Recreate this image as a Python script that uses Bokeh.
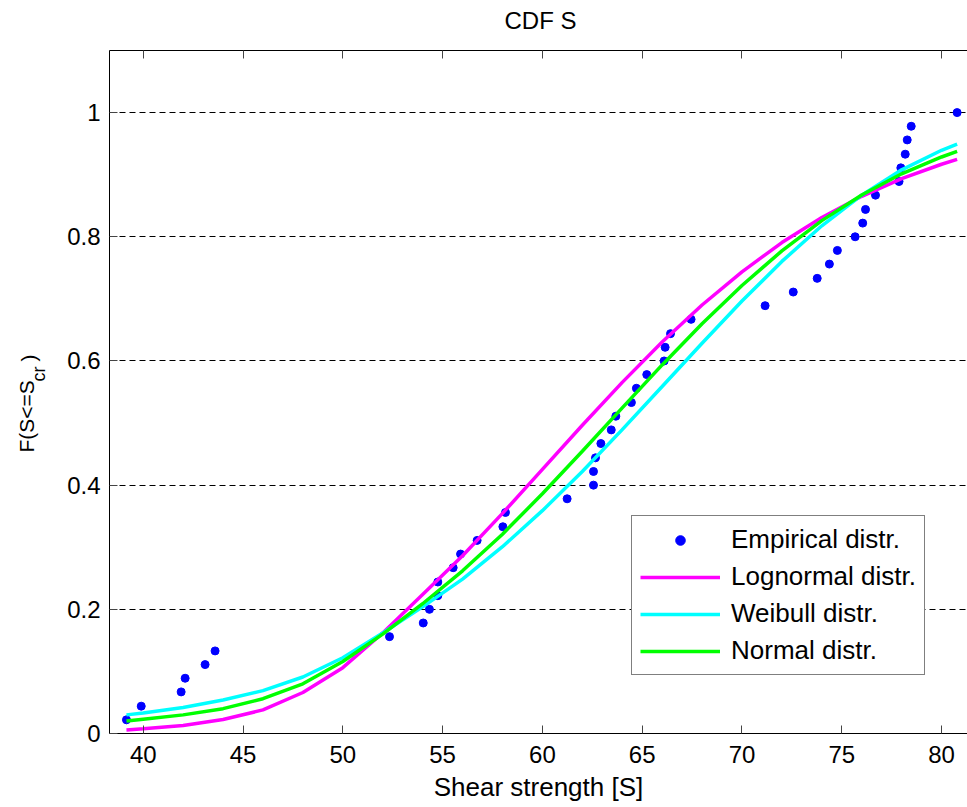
import math
from bokeh.plotting import figure
from bokeh.models import FixedTicker, LinearAxis, Range1d, Legend, LegendItem
from bokeh.layouts import row, column
from bokeh.core.properties import value
from bokeh.embed import file_html
from bokeh.resources import INLINE

# ---------------- data ----------------
emp_x = [39.16, 39.90, 41.90, 42.10, 43.10, 43.60, 52.34, 54.03, 54.34, 54.76,
         54.76, 55.53, 55.90, 56.73, 58.02, 58.15, 61.24, 62.56, 62.56, 62.66,
         62.93, 63.45, 63.68, 64.46, 64.71, 65.23, 66.10, 66.15, 66.42, 67.45,
         71.16, 72.57, 73.77, 74.38, 74.78, 75.67, 76.05, 76.19, 76.69, 77.87,
         77.96, 78.18, 78.28, 78.48, 80.78]
emp_F = [0.022, 0.044, 0.067, 0.089, 0.111, 0.133, 0.156, 0.178, 0.200, 0.222,
         0.244, 0.267, 0.289, 0.311, 0.333, 0.356, 0.378, 0.400, 0.422, 0.444,
         0.467, 0.489, 0.511, 0.533, 0.556, 0.578, 0.600, 0.622, 0.644, 0.667,
         0.689, 0.711, 0.733, 0.756, 0.778, 0.800, 0.822, 0.844, 0.867, 0.889,
         0.911, 0.933, 0.956, 0.978, 1.000]

curve_x = [39.16, 40, 42, 44, 46, 48, 50, 52, 54, 56, 58, 60, 62, 64, 66, 68,
           70, 72, 74, 76, 78, 80, 80.78]
lognormal_F = [0.0058, 0.0075, 0.0130, 0.0225, 0.0380, 0.0660, 0.1060, 0.1620,
               0.2240, 0.2862, 0.3545, 0.4254, 0.4965, 0.5655, 0.6306, 0.6901,
               0.7436, 0.7907, 0.8311, 0.8652, 0.8936, 0.9168, 0.9247]
weibull_F = [0.0300, 0.0330, 0.0420, 0.0540, 0.0690, 0.0910, 0.1220, 0.1620,
             0.2040, 0.2487, 0.3008, 0.3589, 0.4220, 0.4894, 0.5589, 0.6286,
             0.6965, 0.7603, 0.8177, 0.8671, 0.9078, 0.9393, 0.9493]
normal_F = [0.0200, 0.0230, 0.0300, 0.0400, 0.0560, 0.0800, 0.1160, 0.1600,
            0.2090, 0.2620, 0.3210, 0.3861, 0.4546, 0.5245, 0.5936, 0.6599,
            0.7216, 0.7773, 0.8260, 0.8674, 0.9014, 0.9285, 0.9374]

x_ticks = [40, 45, 50, 55, 60, 65, 70, 75, 80]
x_tick_labels = ["40", "45", "50", "55", "60", "65", "70", "75", "80"]
y_ticks = [0, 0.2, 0.4, 0.6, 0.8, 1.0]
y_tick_labels = ["0", "0.2", "0.4", "0.6", "0.8", "1"]

series_names = ["Empirical distr.", "Lognormal distr.", "Weibull distr.", "Normal distr."]
title_text = "CDF S"
x_label = "Shear strength [S]"
y_label_parts = ["F(S<=S", "cr", ")"]

# ---------------- styling ----------------
FONT = "Liberation Sans"
FS = "24px"
W, H = 967, 807
TITLE_H = 36
LAB_W = 50
FRAME_L = 109           # page x of the plot frame's left edge
BORDER_L = FRAME_L - LAB_W


def helper(width, height, border_left=0):
    # a bare strip whose data units are its own frame pixels (y measured upward)
    f = figure(width=width, height=height,
               x_range=Range1d(0, width - border_left), y_range=Range1d(0, height),
               output_backend="svg", toolbar_location=None,
               min_border_left=border_left, min_border_right=0,
               min_border_top=0, min_border_bottom=0,
               x_axis_location=None, y_axis_location=None,
               background_fill_color="white", border_fill_color="white")
    f.outline_line_color = None
    f.grid.visible = False
    return f


# y-label strip, full page height: page_y -> strip y = H - page_y
lab = helper(LAB_W, H)
ykw = dict(angle=math.pi / 2, text_align="left", text_baseline="middle",
           text_font=value(FONT), text_color="black")
lab.text(x=[25.7], y=[H - 452], text=[y_label_parts[0]], text_font_size="21px", **ykw)
lab.text(x=[38.0], y=[H - 381], text=[y_label_parts[1]], text_font_size="18px", **ykw)
lab.text(x=[27.5], y=[H - 361], text=[y_label_parts[2]], text_font_size="21px", **ykw)

# title strip over the plot; its frame has the same left edge as the plot's
tfig = helper(W - LAB_W, TITLE_H, border_left=BORDER_L)
tfig.text(x=[540 - FRAME_L], y=[TITLE_H - 20], text=[title_text], text_align="center",
          text_baseline="middle", text_font=value(FONT),
          text_font_size="24px", text_color="black")

# main plot
p = figure(width=W - LAB_W, height=H - TITLE_H,
           x_range=Range1d(38.31, 81.30), y_range=Range1d(0, 1.1),
           output_backend="svg", toolbar_location=None,
           min_border_left=BORDER_L, min_border_right=0,
           min_border_top=50 - TITLE_H, min_border_bottom=74,
           background_fill_color="white", border_fill_color="white")
p.outline_line_color = None

r_emp = p.scatter(emp_x, emp_F, size=8, marker="circle",
                  fill_color="#0000FF", line_color="#0000FF")
r_log = p.line(curve_x, lognormal_F, line_color="#FF00FF", line_width=3.5)
r_wei = p.line(curve_x, weibull_F, line_color="#00FFFF", line_width=3.5)
r_nor = p.line(curve_x, normal_F, line_color="#00FF00", line_width=3.5)

xa = p.xaxis[0]
ya = p.yaxis[0]
xa.ticker = FixedTicker(ticks=x_ticks)
xa.major_label_overrides = dict(zip(x_ticks, x_tick_labels))
ya.ticker = FixedTicker(ticks=y_ticks)
ya.major_label_overrides = dict(zip(y_ticks, y_tick_labels))

top = LinearAxis(ticker=FixedTicker(ticks=x_ticks))
top.major_label_text_font_size = "1px"
top.major_label_text_color = None
top.major_label_standoff = 0
p.add_layout(top, "above")

for ax in (xa, ya, top):
    ax.major_tick_in = 8
    ax.major_tick_out = 0
    ax.minor_tick_line_color = None
    ax.axis_line_color = "black"
    ax.axis_line_width = 1
    ax.major_tick_line_color = "#444444"
    ax.major_label_text_font = FONT

for ax in (xa, ya):
    ax.major_label_text_font_size = FS
    ax.major_label_text_color = "black"

xa.major_label_standoff = 12
ya.major_label_standoff = 9

xa.axis_label = x_label
xa.axis_label_text_font = FONT
xa.axis_label_text_font_size = "26px"
xa.axis_label_text_font_style = "normal"
xa.axis_label_text_color = "black"
xa.axis_label_standoff = 6

p.xgrid.visible = False
p.ygrid[0].ticker = FixedTicker(ticks=[0.2, 0.4, 0.6, 0.8, 1.0])
p.ygrid.grid_line_color = "black"
p.ygrid.grid_line_dash = "6 4"
p.ygrid.grid_line_width = 1

legend = Legend(items=[LegendItem(label=series_names[0], renderers=[r_emp]),
                       LegendItem(label=series_names[1], renderers=[r_log]),
                       LegendItem(label=series_names[2], renderers=[r_wei]),
                       LegendItem(label=series_names[3], renderers=[r_nor])],
                location=(522, 58))
legend.margin = 0
legend.padding = 8
legend.spacing = 6
legend.glyph_width = 80
legend.glyph_height = 24
legend.label_height = 24
legend.label_standoff = 11
legend.label_text_font = FONT
legend.label_text_font_size = "26px"
legend.label_text_color = "black"
legend.border_line_color = "black"
legend.border_line_width = 1
legend.background_fill_color = "white"
legend.background_fill_alpha = 1.0
p.add_layout(legend)

layout = row(lab, column(tfig, p))
open("out.html", "w").write(file_html(layout, INLINE))
